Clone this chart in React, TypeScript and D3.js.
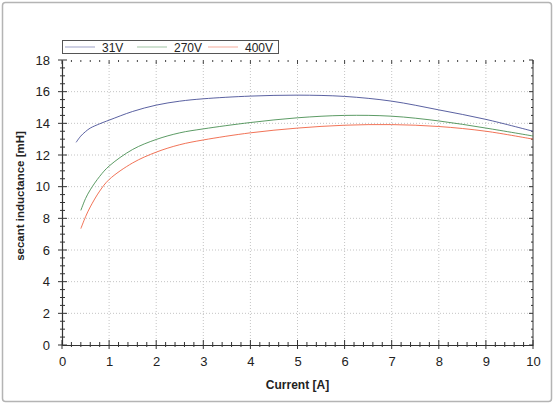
import React, { useEffect, useRef } from "react";
import * as d3 from "d3";

const currentBlue = [0.3, 0.4, 0.5, 0.6, 0.8, 1, 1.5, 2, 2.5, 3, 4, 5, 6, 7, 8, 9, 10];
const v31 = [12.8, 13.2, 13.48, 13.7, 13.97, 14.2, 14.75, 15.15, 15.4, 15.55, 15.72, 15.78, 15.7, 15.4, 14.85, 14.25, 13.5];

const current = [0.4, 0.5, 0.6, 0.8, 1, 1.5, 2, 2.5, 3, 4, 5, 6, 7, 8, 9, 10];
const v270 = [8.5, 9.25, 9.8, 10.65, 11.3, 12.35, 12.98, 13.4, 13.65, 14.05, 14.35, 14.5, 14.45, 14.15, 13.7, 13.2];
const v400 = [7.35, 8.1, 8.72, 9.72, 10.45, 11.5, 12.18, 12.65, 12.95, 13.4, 13.7, 13.88, 13.92, 13.8, 13.5, 13.0];

const seriesNames = ["31V", "270V", "400V"];
const seriesColors = ["#3d4590", "#3f8a4a", "#ee5a3a"];

const xTicks = [0, 1, 2, 3, 4, 5, 6, 7, 8, 9, 10];
const yTicks = [0, 2, 4, 6, 8, 10, 12, 14, 16, 18];

const W = 554;
const H = 405;

const App: React.FC = () => {
  const svgRef = useRef<SVGSVGElement | null>(null);

  useEffect(() => {
    if (!svgRef.current) return;
    const svg = d3.select(svgRef.current);
    svg.selectAll("*").remove();

    const x = d3.scaleLinear().domain([0, 10]).range([62, 533]);
    const y = d3.scaleLinear().domain([0, 18]).range([345, 60]);
    const font = "'Liberation Sans', Arial, sans-serif";
    const isMajor = (d: number, step: number) => Math.abs(d / step - Math.round(d / step)) < 1e-6;

    // outer frame
    svg
      .append("rect")
      .attr("x", 2.5)
      .attr("y", 2.5)
      .attr("width", W - 5)
      .attr("height", H - 6)
      .attr("rx", 3)
      .attr("fill", "#fff")
      .attr("stroke", "#b4b4b4")
      .attr("stroke-width", 1.5);

    // grid
    const grid = svg.append("g").attr("stroke", "#c4c4c4").attr("stroke-dasharray", "1,2");
    grid
      .selectAll("line.gx")
      .data(xTicks.slice(1, -1))
      .join("line")
      .attr("x1", (d) => x(d))
      .attr("x2", (d) => x(d))
      .attr("y1", y(0))
      .attr("y2", y(18));
    grid
      .selectAll("line.gy")
      .data(yTicks.slice(1, -1))
      .join("line")
      .attr("class", "gy")
      .attr("x1", x(0))
      .attr("x2", x(10))
      .attr("y1", (d) => y(d))
      .attr("y2", (d) => y(d));

    // top: ticks only
    const xMinor = d3.range(0, 10.001, 0.2);
    const yMinor = d3.range(0, 18.001, 0.5);
    svg
      .append("g")
      .attr("stroke", "#444")
      .selectAll("line")
      .data(xMinor)
      .join("line")
      .attr("x1", (d) => x(d))
      .attr("x2", (d) => x(d))
      .attr("y1", y(18))
      .attr("y2", (d) => y(18) + (isMajor(d, 1) ? 4 : 2));

    // right axis
    svg
      .append("line")
      .attr("x1", x(10))
      .attr("x2", x(10))
      .attr("y1", y(0))
      .attr("y2", y(18))
      .attr("stroke", "#333");
    svg
      .append("g")
      .attr("stroke", "#333")
      .selectAll("line")
      .data(yMinor)
      .join("line")
      .attr("x1", x(10))
      .attr("x2", (d) => x(10) - (isMajor(d, 2) ? 4 : 2))
      .attr("y1", (d) => y(d))
      .attr("y2", (d) => y(d));

    // left axis
    const yAxis = d3
      .axisLeft(y)
      .tickValues(yTicks)
      .tickSize(0)
      .tickPadding(12)
      .tickFormat(d3.format("d"));
    const gy = svg.append("g").attr("transform", `translate(${x(0)},0)`).call(yAxis);
    gy.select(".domain").attr("stroke", "#333").attr("stroke-width", 1.2);
    gy.selectAll("text").attr("font-family", font).attr("font-size", 13).attr("fill", "#222");
    svg
      .append("g")
      .attr("stroke", "#333")
      .selectAll("line")
      .data(yMinor)
      .join("line")
      .attr("x1", (d) => x(0) - (isMajor(d, 2) ? 4 : 2))
      .attr("x2", (d) => x(0) + (isMajor(d, 2) ? 5 : 3))
      .attr("y1", (d) => y(d))
      .attr("y2", (d) => y(d));

    // bottom axis
    const xAxis = d3
      .axisBottom(x)
      .tickValues(xTicks)
      .tickSize(0)
      .tickPadding(12)
      .tickFormat(d3.format("d"));
    const gx = svg.append("g").attr("transform", `translate(0,${y(0)})`).call(xAxis);
    gx.select(".domain").attr("stroke", "#333").attr("stroke-width", 1.2);
    gx.selectAll("text").attr("font-family", font).attr("font-size", 13).attr("fill", "#222");
    svg
      .append("g")
      .attr("stroke", "#333")
      .selectAll("line")
      .data(xMinor)
      .join("line")
      .attr("x1", (d) => x(d))
      .attr("x2", (d) => x(d))
      .attr("y1", (d) => y(0) - (isMajor(d, 1) ? 5 : 3))
      .attr("y2", (d) => y(0) + (isMajor(d, 1) ? 4 : 2));

    // axis titles
    svg
      .append("text")
      .attr("x", (x(0) + x(10)) / 2)
      .attr("y", 389)
      .attr("text-anchor", "middle")
      .attr("font-family", font)
      .attr("font-weight", "bold")
      .attr("font-size", 12)
      .attr("fill", "#222")
      .text("Current [A]");
    svg
      .append("text")
      .attr("transform", `translate(24,196) rotate(-90)`)
      .attr("text-anchor", "middle")
      .attr("font-family", font)
      .attr("font-weight", "bold")
      .attr("font-size", 11.5)
      .attr("fill", "#222")
      .text("secant inductance [mH]");

    // curves
    const line = d3
      .line<[number, number]>()
      .x((d) => x(d[0]))
      .y((d) => y(d[1]))
      .curve(d3.curveCatmullRom.alpha(0.5));
    const series: [number, number][][] = [
      currentBlue.map((c, i) => [c, v31[i]]),
      current.map((c, i) => [c, v270[i]]),
      current.map((c, i) => [c, v400[i]]),
    ];
    series.forEach((pts, i) => {
      svg
        .append("path")
        .datum(pts)
        .attr("d", line)
        .attr("fill", "none")
        .attr("stroke", seriesColors[i])
        .attr("stroke-opacity", 0.85)
        .attr("stroke-width", 1);
    });

    // legend
    const lg = svg.append("g");
    lg.append("rect")
      .attr("x", 62.5)
      .attr("y", 40.5)
      .attr("width", 216)
      .attr("height", 13)
      .attr("fill", "#fff")
      .attr("stroke", "#555");
    const legendX = [65, 137, 208];
    seriesNames.forEach((name, i) => {
      lg.append("line")
        .attr("x1", legendX[i])
        .attr("x2", legendX[i] + 30)
        .attr("y1", 47)
        .attr("y2", 47)
        .attr("stroke", seriesColors[i])
        .attr("stroke-opacity", 0.5);
      lg.append("text")
        .attr("x", legendX[i] + 37)
        .attr("y", 51.5)
        .attr("font-family", font)
        .attr("font-size", 12)
        .attr("fill", "#222")
        .text(name);
    });
  }, []);

  return (
    <svg
      ref={svgRef}
      width={W}
      height={H}
      style={{ position: "absolute", left: 0, top: 0, background: "#fff" }}
    />
  );
};

export default App;
